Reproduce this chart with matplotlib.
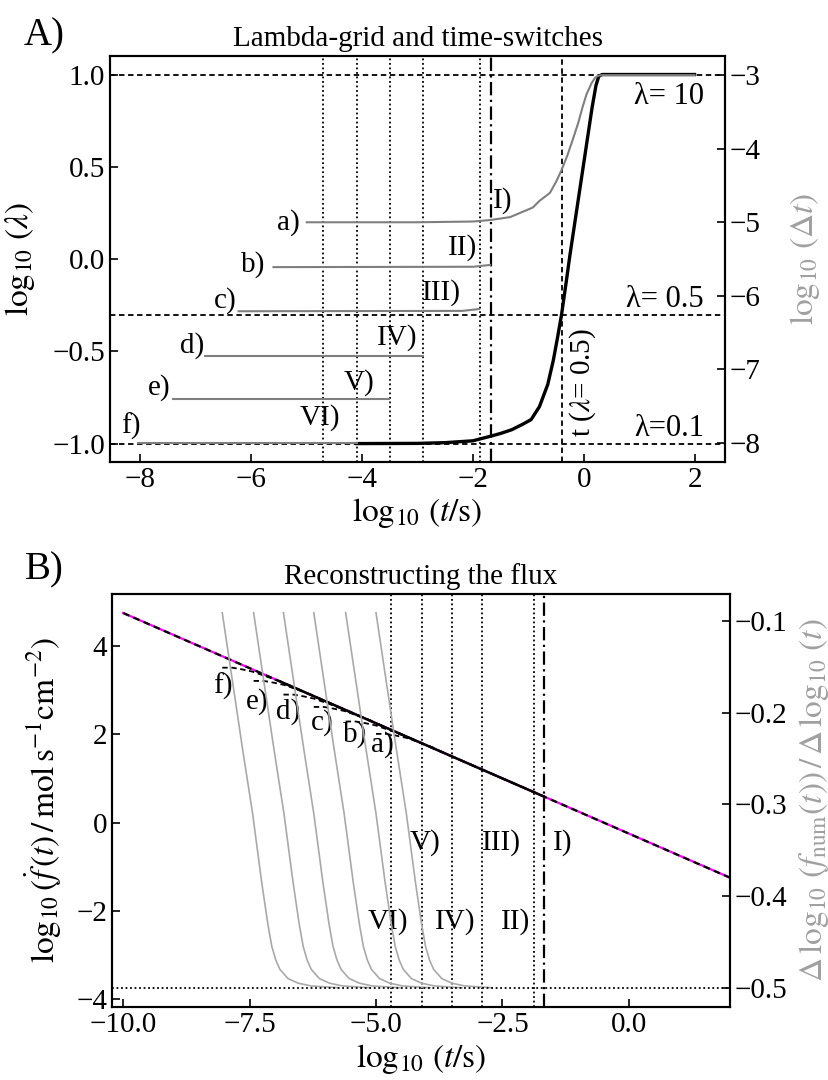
import numpy as np
import matplotlib
matplotlib.use('Agg')
import matplotlib.pyplot as plt

plt.rcParams['font.family'] = ['Liberation Serif', 'DejaVu Serif']
plt.rcParams['mathtext.fontset'] = 'stix'
plt.rcParams['axes.linewidth'] = 1.5

# ---- panel A data ----
switch_t = [-4.71, -4.10, -3.50, -2.90, -1.88]   # VI) .. II) (dotted)
switch_I = -1.68                                 # I) (dash-dot)
t_half = -0.40                                   # t(lambda = 0.5)
lam_levels = [1.0, np.log10(0.5), -1.0]

grid_names = ['a)', 'b)', 'c)', 'd)', 'e)', 'f)']
grid_t0 = [-5.0, -5.6, -6.23, -6.83, -7.42, -8.04]
grid_t1 = [2.0, -1.69, -1.89, -2.90, -3.51, -4.10]
grid_dt = [-5.0, -5.61, -6.21, -6.82, -7.40, -8.0]
grid_label_xy = [(-5.33, -5.0), (-5.96, -5.58), (-6.47, -6.06),
                 (-7.06, -6.67), (-7.67, -7.25), (-8.18, -7.78)]

# grid a) after the last switch (log10 t, log10 dt)
a_t = [-1.69, -1.33, -0.92, -0.80, -0.61, -0.50, -0.40, -0.30, -0.20, -0.10,
       -0.02, 0.05, 0.14, 0.20, 0.25, 0.32, 2.0]
a_dt = [-4.97, -4.93, -4.80, -4.71, -4.60, -4.45, -4.29, -4.10, -3.88, -3.65,
        -3.43, -3.26, -3.11, -3.04, -3.01, -3.0, -3.0]

# lambda(t)
lam_t = [-4.1, -3.0, -2.5, -2.0, -1.68, -1.5, -1.3, -1.1, -0.95, -0.8, -0.65,
         -0.55, -0.47, -0.40, -0.31, -0.25, -0.15, -0.05, 0.05, 0.15, 0.22,
         0.27, 0.33, 2.0]
lam_v = [-1.0, -0.999, -0.995, -0.985, -0.96, -0.945, -0.925, -0.895, -0.87,
         -0.80, -0.68, -0.55, -0.42, -0.30, -0.11, 0.02, 0.22, 0.42, 0.62,
         0.82, 0.94, 0.99, 1.0, 1.0]

roman = ['I)', 'II)', 'III)', 'IV)', 'V)', 'VI)']
roman_A = [(-1.46, -4.70), (-2.18, -5.35), (-2.56, -5.96),
           (-3.37, -6.57), (-4.05, -7.18), (-4.76, -7.66)]

# ---- panel B data ----
flux_t = [-10.0, 2.0]
flux_v = [4.75, -1.25]
flux_num_t = [-6.9, -1.68]
flux_num_v = [3.20, 0.59]

rec_y0 = [2.01, 2.29, 2.62, 2.90, 3.21, 3.51]     # a) .. f)
rec_dv = [0.0, 0.2, 0.4, 0.6, 0.9, 1.2]
rec_dy = [0.0, 0.0, -0.04, -0.09, -0.21, -0.34]
rec_label_xy = [(-4.88, 1.76), (-5.42, 1.99), (-6.07, 2.26),
                (-6.74, 2.51), (-7.35, 2.74), (-8.02, 3.08)]

slope_dv = [0.0, 0.2, 0.4, 0.6, 0.78, 0.9, 0.98, 1.06, 1.14, 1.3, 1.5, 1.75, 2.3]
slope_r = [-0.091, -0.165, -0.239, -0.31, -0.385, -0.43, -0.455, -0.470,
           -0.480, -0.490, -0.495, -0.498, -0.500]
slope_floor = -0.5

roman_B = [(-1.30, -0.45), (-2.25, -2.24), (-2.51, -0.45),
           (-3.44, -2.24), (-4.03, -0.45), (-4.76, -2.24)]

GRAY = '#7f7f7f'
LGRAY = '#a9a9a9'
LABGRAY = '#a0a0a0'
FS = 21
LFS = 24

fig = plt.figure(figsize=(8.29, 10.8), dpi=100)

# ================= panel A =================
ax = fig.add_axes([0.1327, 0.5722, 0.7419, 0.3759])
ax2 = ax.twinx()

for v in lam_levels:
    ax.axhline(v, color='k', ls=(0, (3, 2)), lw=1.3, zorder=3)
for v in switch_t:
    ax.axvline(v, color='k', ls=(0, (1, 1.5)), lw=1.3, zorder=3)
ax.axvline(switch_I, color='k', ls=(0, (6, 2, 1, 2)), lw=1.6, zorder=3)
ax.axvline(t_half, color='k', ls=(0, (3, 2)), lw=1.3, zorder=3)

ax.plot(lam_t, lam_v, color='k', lw=2.4, zorder=4)

for i in range(len(grid_names)):
    if i == 0:
        xs = [grid_t0[0], -3.0, -2.0] + a_t
        ys = [grid_dt[0], -5.0, -4.99] + a_dt
    elif i in (1, 2):
        xs = [grid_t0[i], grid_t1[i] - 0.3, grid_t1[i]]
        ys = [grid_dt[i], grid_dt[i] + 0.005, grid_dt[i] + 0.03]
    else:
        xs = [grid_t0[i], grid_t1[i]]
        ys = [grid_dt[i], grid_dt[i]]
    ax2.plot(xs, ys, color=GRAY, lw=1.5, zorder=2)
    lx, ly = grid_label_xy[i]
    ax2.text(lx, ly, grid_names[i], fontsize=FS, ha='center', va='center')

for name, (lx, ly) in zip(roman, roman_A):
    ax2.text(lx, ly, name, fontsize=FS, ha='center', va='center')

ax.text(2.17, 0.88, 'λ= 10', fontsize=22, ha='right', va='center')
ax.text(2.17, -0.22, 'λ= 0.5', fontsize=22, ha='right', va='center')
ax.text(2.17, -0.92, 'λ=0.1', fontsize=22, ha='right', va='center')
ax.text(-0.02, -0.67, 't ($\\lambda$= 0.5)', fontsize=FS, rotation=90,
        ha='center', va='center')

ax.set_xlim(-8.55, 2.55)
ax.set_ylim(-1.1, 1.1)
ax2.set_ylim(-8.26, -2.74)
ax.set_xticks([-8, -6, -4, -2, 0, 2])
ax.set_yticks([1.0, 0.5, 0.0, -0.5, -1.0])
ax2.set_yticks([-3, -4, -5, -6, -7, -8])
for a in (ax, ax2):
    a.tick_params(direction='in', length=6, width=1.2, labelsize=FS)
ax.set_title('Lambda-grid and time-switches', fontsize=FS, pad=7)
ax.set_xlabel(r'$\log_{10}\,(t/\mathrm{s})$', fontsize=LFS, labelpad=2)
ax.set_ylabel(r'$\log_{10}\,(\lambda)$', fontsize=LFS)
ax.yaxis.set_label_coords(-0.118, 0.5)
ax2.set_ylabel(r'$\log_{10}\,(\Delta t)$', fontsize=LFS, color=LABGRAY)
ax2.yaxis.set_label_coords(1.103, 0.5)
fig.text(0.053, 0.967, 'A)', fontsize=28, ha='center', va='center')

# ================= panel B =================
bx = fig.add_axes([0.1351, 0.0676, 0.7455, 0.3824])
bx2 = bx.twinx()

for i in range(len(grid_t0)):
    xs = [grid_t0[i] + d for d in slope_dv]
    bx2.plot(xs, slope_r, color=LGRAY, lw=1.2, zorder=1)
bx2.axhline(slope_floor, color='k', ls=(0, (1, 1.5)), lw=1.3, zorder=3)

for v in switch_t:
    bx.axvline(v, color='k', ls=(0, (1, 1.5)), lw=1.3, zorder=3)
bx.axvline(switch_I, color='k', ls=(0, (6, 2, 1, 2)), lw=1.6, zorder=3)

bx.plot(flux_t, flux_v, color='#ff00ff', lw=1.6, zorder=4)
bx.plot(flux_t, flux_v, color='k', lw=1.6, ls=(0, (3, 2)), zorder=5)
bx.plot(flux_num_t, flux_num_v, color='k', lw=1.8, zorder=6)

for i in range(len(rec_y0)):
    xs = [grid_t0[i] + d for d in rec_dv]
    ys = [rec_y0[i] + d for d in rec_dy]
    bx.plot(xs, ys, color='k', lw=1.3, ls=(0, (3, 2)), zorder=6)
    lx, ly = rec_label_xy[i]
    bx.text(lx, ly, grid_names[i], fontsize=FS, ha='center', va='center')

for name, (lx, ly) in zip(roman, roman_B):
    bx.text(lx, ly, name, fontsize=FS, ha='center', va='center')

bx.set_xlim(-10.22, 2.0)
bx.set_ylim(-4.18, 5.18)
bx2.set_ylim(-0.521, -0.0706)
bx.set_xticks([-10.0, -7.5, -5.0, -2.5, 0.0])
bx.set_xticklabels(['−10.0', '−7.5', '−5.0', '−2.5', '0.0'])
bx.set_yticks([4, 2, 0, -2, -4])
bx2.set_yticks([-0.1, -0.2, -0.3, -0.4, -0.5])
for a in (bx, bx2):
    a.tick_params(direction='in', length=6, width=1.2, labelsize=FS)
bx.set_title('Reconstructing the flux', fontsize=FS, pad=7)
bx.set_xlabel(r'$\log_{10}\,(t/\mathrm{s})$', fontsize=LFS, labelpad=3)
bx.set_ylabel(r'$\log_{10}(\dot{f}\,(t)\,/\,\mathrm{mol\,s^{-1}cm^{-2}})$',
              fontsize=LFS)
bx.yaxis.set_label_coords(-0.078, 0.5)
bx2.set_ylabel(r'$\Delta\,\log_{10}\,(f_{\mathrm{num}}(t))\,/\,\Delta\,\log_{10}\,(t)$',
               fontsize=LFS, color=LABGRAY)
bx2.yaxis.set_label_coords(1.108, 0.5)
fig.text(0.053, 0.472, 'B)', fontsize=28, ha='center', va='center')

fig.savefig('out.png', dpi=100)
